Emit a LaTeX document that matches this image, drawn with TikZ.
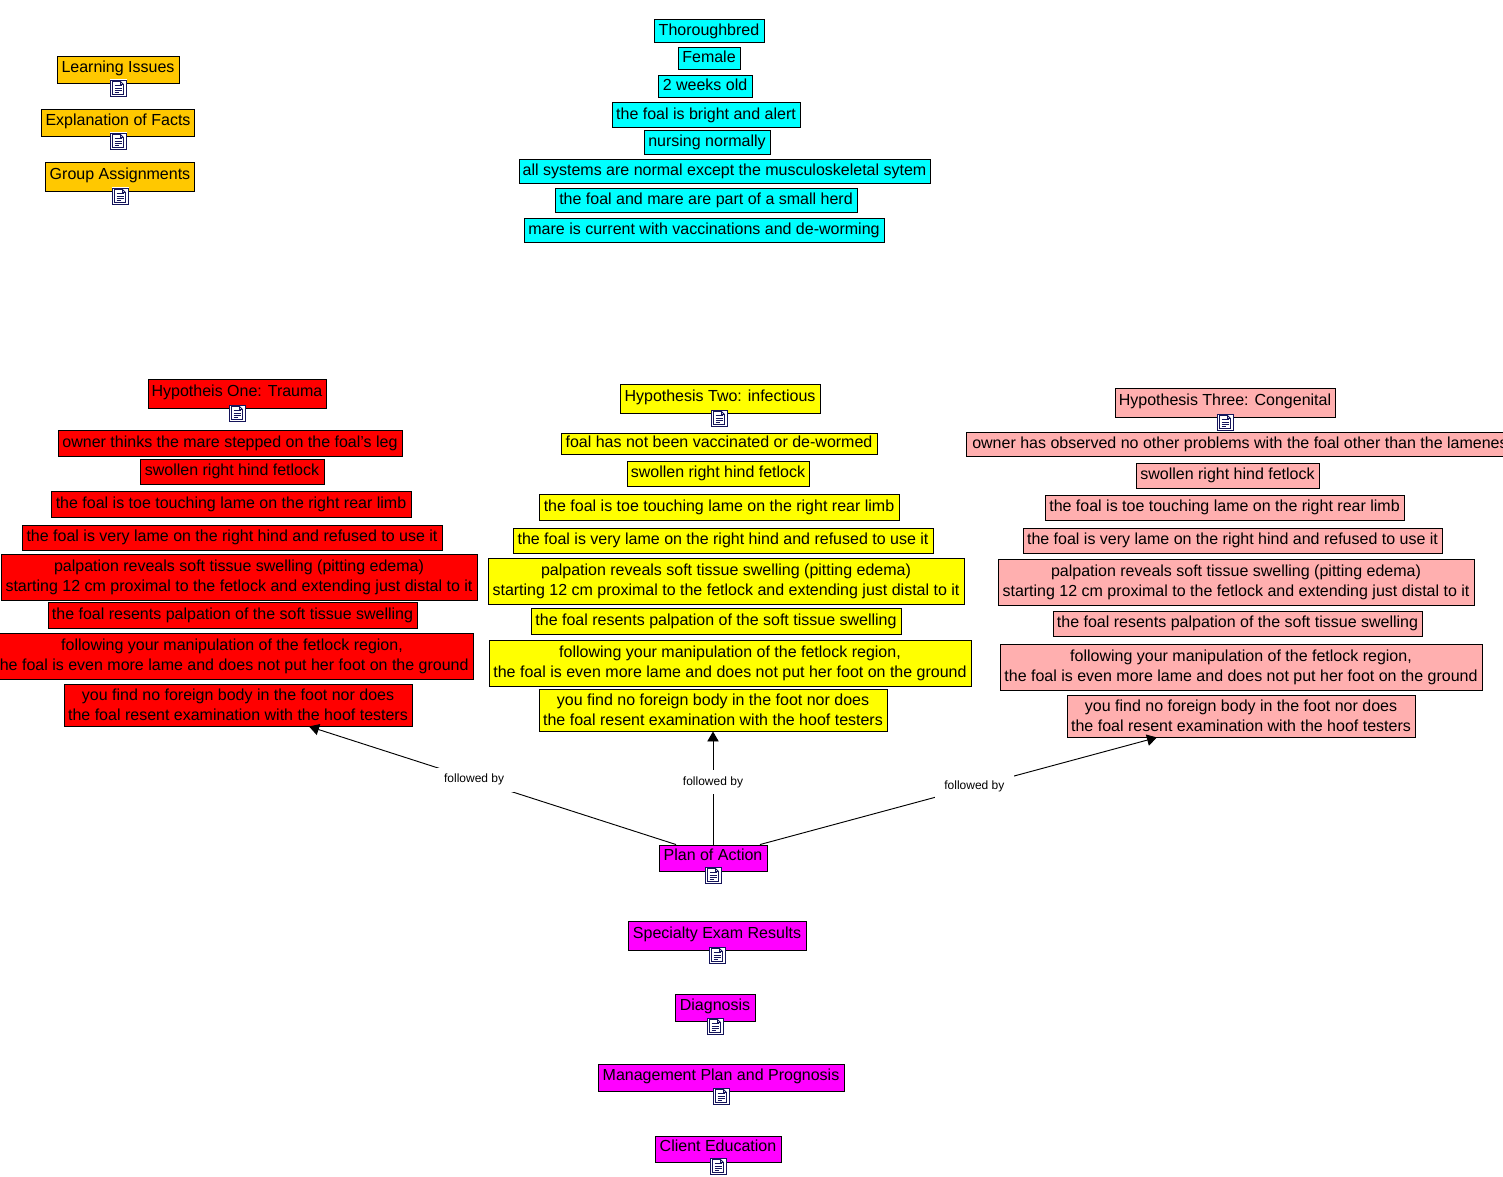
\documentclass[tikz,border=0pt]{standalone}
\usepackage{fontspec}
\setmainfont{Liberation Sans}
\usetikzlibrary{arrows.meta}
\definecolor{orangebox}{RGB}{255,200,0}
\definecolor{cyanbox}{RGB}{0,255,255}
\definecolor{magentabox}{RGB}{255,0,255}
\definecolor{yellowbox}{RGB}{255,255,0}
\definecolor{redbox}{RGB}{255,0,0}
\definecolor{pinkbox}{RGB}{255,175,175}
\definecolor{iconblue}{RGB}{20,20,90}
\tikzset{
boxsize/.style 2 args={minimum width=#1*0.75pt, minimum height=#2*0.75pt},
basebox/.style={rectangle, draw=black, line width=0.7pt, inner sep=0pt, align=center, font=\fontsize{12}{15}\selectfont},
oneline/.style={text height=9pt, text depth=4.8pt},
rowline/.style={text height=9pt, text depth=3pt},
orangenode/.style={basebox, oneline, fill=orangebox},
cyannode/.style={basebox, text height=9pt, text depth=1.8pt, fill=cyanbox},
magentanode/.style={basebox, oneline, fill=magentabox},
rednode/.style={basebox, fill=redbox},
yellownode/.style={basebox, fill=yellowbox},
pinknode/.style={basebox, fill=pinkbox},
followed/.style={-{Triangle[length=7.5pt,width=8.5pt]}, line width=0.7pt},
edgelabel/.style={fill=white, inner xsep=7pt, inner ysep=0pt, minimum height=18pt, font=\fontsize{9}{11}\selectfont, pos=0.55},
docicon/.pic={
    \fill[white] (-8.5,-8.5) rectangle (8.5,8.5);
    \draw[iconblue, line width=0.7pt] (-8,-8) rectangle (8,8);
    \draw[iconblue, line width=0.6pt] (-5.5,-6.5) -- (2.5,-6.5) -- (5.5,-3.5) -- (5.5,6.5) -- (-5.5,6.5) -- cycle;
    \draw[iconblue, line width=0.6pt] (2.5,-6.5) -- (2.5,-3.5) -- (5.5,-3.5);
    \foreach \row in {-2.5,0,2.5} \draw[iconblue, line width=0.5pt] (-3.5,\row) -- (3.5,\row);
    \draw[iconblue, line width=0.5pt] (-3.5,4.5) -- (0.5,4.5);
},
}
\begin{document}
\begin{tikzpicture}[x=0.75pt, y=-0.75pt]
    \useasboundingbox (0,0) rectangle (1503,1177);
    % learning group
    \node[orangenode, boxsize={122}{27}] (issues) at (118,69.5) {Learning Issues};
    \node[orangenode, boxsize={153}{27}] (facts) at (118,123) {Explanation of Facts};
    \node[orangenode, boxsize={149}{29}] (assignments) at (120,176.5) {Group Assignments};
    \pic at (118,88) {docicon};
    \pic at (118,141) {docicon};
    \pic at (120,196) {docicon};
    % facts of the case
    \node[cyannode, boxsize={110}{23}] (breed) at (709,30.5) {Thoroughbred};
    \node[cyannode, boxsize={62}{22}] (sex) at (709,58) {Female};
    \node[cyannode, boxsize={94}{22}] (age) at (705,86) {2 weeks old};
    \node[cyannode, boxsize={188}{25}] (alert) at (706,114.5) {the foal is bright and alert};
    \node[cyannode, boxsize={126}{24}] (nursing) at (707,142) {nursing normally};
    \node[cyannode, boxsize={411}{24}] (systems) at (724.5,171) {all systems are normal except the musculoskeletal sytem};
    \node[cyannode, boxsize={302}{24}] (herd) at (706,200) {the foal and mare are part of a small herd};
    \node[cyannode, boxsize={360}{24}] (mare) at (704,230) {mare is current with vaccinations and de-worming};
    % hypothesis one
    \node[rednode, oneline, boxsize={178}{29}] (hypone) at (237,393.5) {Hypotheis One: Trauma};
    \node[rednode, rowline, boxsize={344}{26}] (redowner) at (230,443) {owner thinks the mare stepped on the foal's leg};
    \node[rednode, rowline, boxsize={184}{25}] (redswollen) at (232,471.5) {swollen right hind fetlock};
    \node[rednode, rowline, boxsize={360}{26}] (redtoe) at (231,504) {the foal is toe touching lame on the right rear limb};
    \node[rednode, rowline, boxsize={420}{25}] (redlame) at (232,537.5) {the foal is very lame on the right hind and refused to use it};
    \node[rednode, boxsize={476}{46}] (redpalp) at (239,577) {palpation reveals soft tissue swelling (pitting edema)\\starting 12 cm proximal to the fetlock and extending just distal to it};
    \node[rednode, rowline, boxsize={369}{26}] (redresent) at (232.5,615) {the foal resents palpation of the soft tissue swelling};
    \node[rednode, boxsize={482}{46}] (redmanip) at (232,656) {following your manipulation of the fetlock region,\\the foal is even more lame and does not put her foot on the ground};
    \node[rednode, boxsize={348}{42}] (redbody) at (238,705) {you find no foreign body in the foot nor does\\the foal resent examination with the hoof testers};
    \pic at (237,413) {docicon};
    % hypothesis two
    \node[yellownode, oneline, boxsize={200}{29}] (hyptwo) at (720,398.5) {Hypothesis Two: infectious};
    \node[yellownode, rowline, boxsize={316}{21}] (yelowner) at (719,443.5) {foal has not been vaccinated or de-wormed};
    \node[yellownode, rowline, boxsize={182}{25}] (yelswollen) at (718,473.5) {swollen right hind fetlock};
    \node[yellownode, rowline, boxsize={360}{26}] (yeltoe) at (719,507) {the foal is toe touching lame on the right rear limb};
    \node[yellownode, rowline, boxsize={420}{25}] (yellame) at (723,540.5) {the foal is very lame on the right hind and refused to use it};
    \node[yellownode, boxsize={476}{46}] (yelpalp) at (726,581) {palpation reveals soft tissue swelling (pitting edema)\\starting 12 cm proximal to the fetlock and extending just distal to it};
    \node[yellownode, rowline, boxsize={370}{26}] (yelresent) at (716,621) {the foal resents palpation of the soft tissue swelling};
    \node[yellownode, boxsize={482}{46}] (yelmanip) at (730,663) {following your manipulation of the fetlock region,\\the foal is even more lame and does not put her foot on the ground};
    \node[yellownode, boxsize={348}{42}] (yelbody) at (713,710) {you find no foreign body in the foot nor does\\the foal resent examination with the hoof testers};
    \pic at (719,418) {docicon};
    % hypothesis three
    \node[pinknode, oneline, boxsize={220}{29}] (hypthree) at (1225,402.5) {Hypothesis Three: Congenital};
    \node[pinknode, rowline, boxsize={556}{24}] (pinkowner) at (1244,444) {owner has observed no other problems with the foal other than the lameness};
    \node[pinknode, rowline, boxsize={183}{25}] (pinkswollen) at (1227.5,475.5) {swollen right hind fetlock};
    \node[pinknode, rowline, boxsize={359}{25}] (pinktoe) at (1224.5,507.5) {the foal is toe touching lame on the right rear limb};
    \node[pinknode, rowline, boxsize={419}{25}] (pinklame) at (1232.5,540.5) {the foal is very lame on the right hind and refused to use it};
    \node[pinknode, boxsize={476}{46}] (pinkpalp) at (1236,582) {palpation reveals soft tissue swelling (pitting edema)\\starting 12 cm proximal to the fetlock and extending just distal to it};
    \node[pinknode, rowline, boxsize={369}{25}] (pinkresent) at (1237.5,623.5) {the foal resents palpation of the soft tissue swelling};
    \node[pinknode, boxsize={482}{46}] (pinkmanip) at (1241,667) {following your manipulation of the fetlock region,\\the foal is even more lame and does not put her foot on the ground};
    \node[pinknode, boxsize={348}{42}] (pinkbody) at (1241,716) {you find no foreign body in the foot nor does\\the foal resent examination with the hoof testers};
    \pic at (1225,422) {docicon};
    % plan column
    \node[magentanode, boxsize={108}{26}] (plan) at (713,858) {Plan of Action};
    \node[magentanode, boxsize={178}{29}] (exam) at (717,935.5) {Specialty Exam Results};
    \node[magentanode, boxsize={80}{27}] (diagnosis) at (715,1007.5) {Diagnosis};
    \node[magentanode, boxsize={246}{27}] (management) at (721,1077.5) {Management Plan and Prognosis};
    \node[magentanode, boxsize={126}{26}] (client) at (718,1149) {Client Education};
    \pic at (713,875) {docicon};
    \pic at (717,955) {docicon};
    \pic at (715,1026) {docicon};
    \pic at (721,1096) {docicon};
    \pic at (718,1166) {docicon};
    \draw[followed] ([xshift=-27.75pt]plan.north) -- node[edgelabel] (labelone) {followed by} ([xshift=53.25pt]redbody.south);
    \draw[followed] (plan.north) -- node[edgelabel] (labeltwo) {followed by} (yelbody.south);
    \draw[followed] ([xshift=35.25pt]plan.north) -- node[edgelabel, pos=0.54] (labelthree) {followed by} ([xshift=-63pt]pinkbody.south);
\end{tikzpicture}
\end{document}
